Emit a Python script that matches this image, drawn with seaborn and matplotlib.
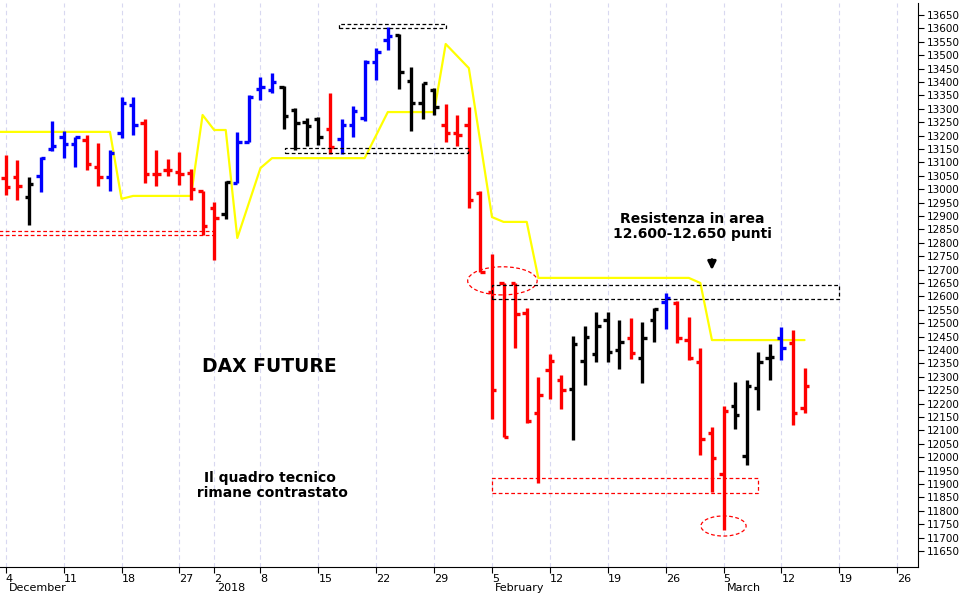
import numpy as np
import pandas as pd
import matplotlib
matplotlib.use("Agg")
import matplotlib.pyplot as plt
import seaborn as sns
from matplotlib.patches import Ellipse, Rectangle
import matplotlib.transforms as mtransforms

# ---- data ----
opens = [13040,13046,12971,13050,13150,13195,13169,13184,13083,13046,13210,13314,13247,13057,13072,13064,13061,12995,12930,12908,
         13024,13176,13374,13370,13381,13295,13251,13262,13225,13187,13240,13266,13475,13557,13575,13404,13322,13370,13240,13210,
         13240,12986,12617,12650,12650,12538,12165,12325,12288,12255,12359,12385,12512,12400,12445,12370,12512,12579,12575,12437,
         12355,12090,11937,12191,12005,12258,12370,12445,12426,12184]
highs = [13128,13109,13046,13120,13255,13217,13195,13202,13172,13146,13344,13344,13262,13146,13113,13139,13075,12995,12952,13031,
         13213,13352,13419,13433,13385,13303,13266,13270,13359,13262,13310,13482,13527,13605,13580,13456,13396,13378,13318,13277,
         13307,12993,12758,12650,12650,12557,12299,12385,12307,12452,12490,12542,12542,12512,12520,12505,12557,12613,12583,12523,
         12408,12113,12191,12281,12288,12393,12422,12486,12475,12333]
lows  = [12978,12960,12866,12990,13143,13116,13083,13072,13012,12995,13191,13202,13024,13012,13050,13016,12960,12829,12736,12889,
         13024,13176,13333,13359,13225,13146,13161,13165,13131,13131,13195,13255,13407,13519,13374,13217,13262,13277,13176,13161,
         12930,12691,12143,12076,12408,12128,11904,12217,12180,12064,12270,12355,12355,12329,12367,12277,12430,12478,12426,12363,
         12008,11870,11728,12105,11971,12176,12288,12363,12120,12165]
closes = [13010,13012,13019,13116,13160,13169,13195,13094,13046,13135,13322,13240,13057,13057,13072,13057,13000,12863,12893,13027,
          13176,13344,13381,13400,13273,13247,13236,13195,13158,13240,13292,13475,13512,13572,13437,13322,13396,13307,13210,13202,
          12960,12691,12251,12076,12534,12135,12232,12359,12251,12422,12449,12490,12393,12430,12389,12445,12553,12594,12445,12370,
          12068,11997,12173,12158,12266,12355,12374,12408,12165,12266]
bar_colors = list("rrkbbbbrrbbbrrrrrrrkbbbbkkkkrbbbbbkkkkrrrrrrrrrrrkkkkkrkkbrrrrrkkkkbrr")

trend_x = [-1, 9, 10, 11, 16, 17, 18, 19, 20, 22, 23, 31, 33, 37, 38, 40, 42, 43, 45, 46, 59, 60, 61, 69]
trend_y = [13214, 13214, 12964, 12975, 12975, 13277, 13221, 13221, 12818, 13079, 13116, 13116, 13288, 13288,
           13542, 13452, 12896, 12878, 12878, 12669, 12669, 12650, 12437, 12437]

tick_idx = [0, 5, 10, 15, 18, 22, 27, 32, 37, 42, 47, 52, 57, 62, 67, 72, 77]
tick_labels = ["4", "11", "18", "27", "2", "8", "15", "22", "29", "5", "12", "19", "26", "5", "12", "19", "26"]
month_idx = [0, 18, 42, 62]
month_labels = ["December", "2018", "February", "March"]

cmap = {"r": "#ff0000", "b": "#0000ff", "k": "#000000"}

sns.set_style("white")
plt.rcParams["text.color"] = "black"
plt.rcParams["xtick.color"] = "black"
plt.rcParams["ytick.color"] = "black"
fig = plt.figure(figsize=(9.66, 5.94), dpi=100)
ax = fig.add_axes([0.0, 1 - 567/594, 918/966, 564/594])

idx = np.arange(len(opens))
cols = [cmap[c] for c in bar_colors]
ax.vlines(idx, lows, highs, colors=cols, lw=2.4, zorder=3)
ax.hlines(opens, idx - 0.38, idx, colors=cols, lw=2.4, zorder=3)
ax.hlines(closes, idx, idx + 0.38, colors=cols, lw=2.4, zorder=3)

sns.lineplot(x=trend_x, y=trend_y, color="#ffff00", lw=1.6, ax=ax, zorder=2, sort=False)

for t in tick_idx:
    ax.axvline(t, color="#d8d8f0", lw=0.8, ls=(0, (4, 3)), zorder=0)

def dbox(x0, x1, y0, y1, c):
    ax.add_patch(Rectangle((x0, y0), x1 - x0, y1 - y0, fill=False, ec=c, lw=0.9, ls=(0, (3, 2)), zorder=4))
ax.hlines([12844, 12829], -0.6, 18, colors="#ff0000", lw=0.9, ls=(0, (3, 2)))
dbox(28.8, 38, 13601, 13616, "black")
dbox(24.1, 39.9, 13135, 13154, "black")
dbox(42, 72, 12590, 12643, "black")
dbox(42, 65, 11867, 11923, "#ff0000")
ax.add_patch(Ellipse((42.9, 12658), 6.0, 105, fill=False, ec="#ff0000", lw=0.9, ls=(0, (3, 2))))
ax.add_patch(Ellipse((62.0, 11743), 3.9, 75, fill=False, ec="#ff0000", lw=0.9, ls=(0, (3, 2))))
ax.annotate("", xy=(61, 12688), xytext=(61, 12748),
            arrowprops=dict(arrowstyle="-|>", color="black", lw=2, mutation_scale=12))

ax.text(22.8, 12340, "DAX FUTURE", fontsize=13.5, fontweight="bold", ha="center", va="center")
ax.text(22.8, 11895, "Il quadro tecnico\n rimane contrastato", fontsize=10, fontweight="bold", ha="center", va="center", linespacing=1.1)
ax.text(59.3, 12860, "Resistenza in area\n12.600-12.650 punti", fontsize=10, fontweight="bold", ha="center", va="center", linespacing=1.1)

ax.set_xlim(-0.5, 78.8)
ax.set_ylim(11590, 13695)
ax.yaxis.tick_right()
ax.set_yticks(np.arange(11650, 13651, 50))
ax.set_yticklabels([str(v) for v in np.arange(11650, 13651, 50)], fontsize=7.5)
ax.set_xticks(tick_idx)
ax.set_xticklabels(tick_labels, fontsize=8, ha="left")
offset = mtransforms.ScaledTranslation(3/72, 0, fig.dpi_scale_trans)
for lab in ax.get_xticklabels():
    lab.set_transform(lab.get_transform() + offset)
ax.tick_params(axis="x", length=4, pad=1, direction="out", bottom=True)
ax.tick_params(axis="y", length=4, pad=2, direction="out", right=True)
trans = mtransforms.blended_transform_factory(ax.transData, ax.transAxes)
for m, l in zip(month_idx, month_labels):
    ax.text(m + 0.25, -0.038, l, transform=trans, fontsize=8, ha="left", va="center")
for s in ["top", "left"]:
    ax.spines[s].set_visible(False)
ax.spines["right"].set_color("black")
ax.spines["bottom"].set_color("black")
fig.savefig("out.png", dpi=100)
